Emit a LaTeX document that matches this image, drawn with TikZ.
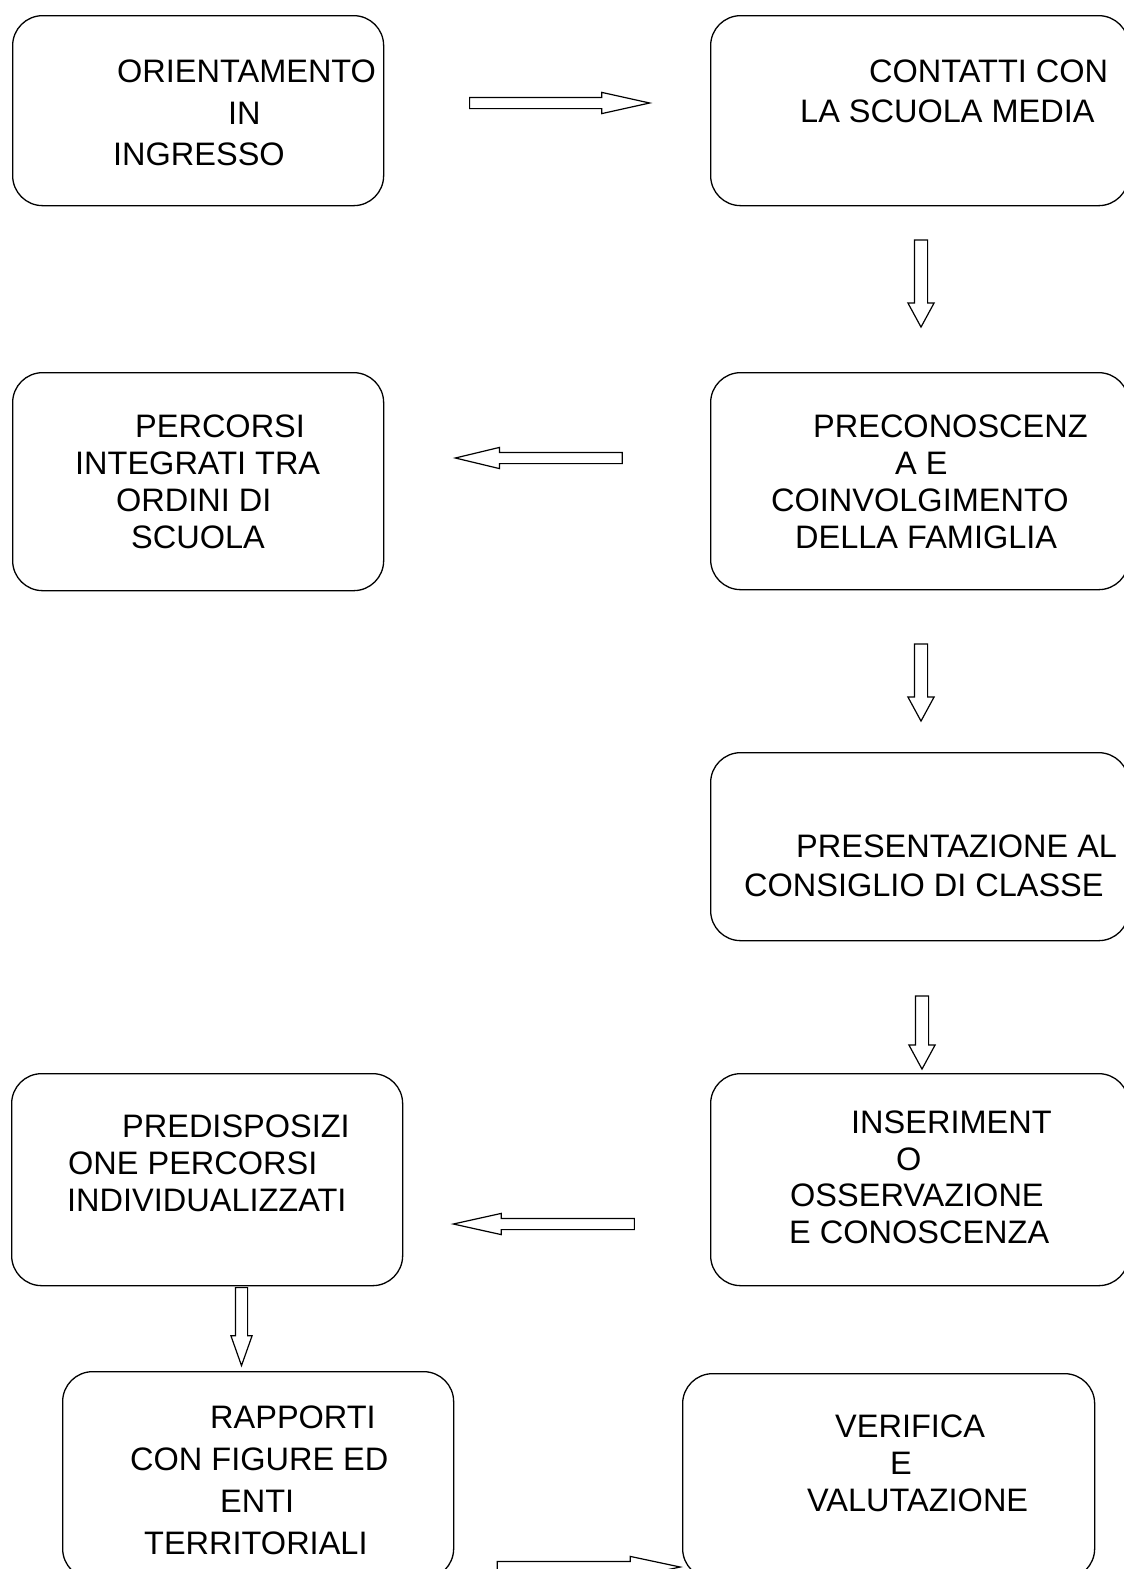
\documentclass[tikz,border=0pt]{standalone}
\usepackage{fontspec}
\setmainfont{Liberation Sans}
\usetikzlibrary{shapes, arrows, positioning, calc}
\tikzset{
    phase/.style={
        rectangle,
        rounded corners=30pt,
        line width=1.3pt,
        draw=black,
        anchor=north west,
        inner sep=0pt,
    },
    words/.style={
        anchor=north west,
        inner sep=0pt,
        align=left,
        font=\fontsize{32.5}{37}\selectfont,
    },
    hollow/.style={
        single arrow,
        draw=black,
        line width=1.2pt,
        inner xsep=0pt,
        single arrow head indent=0pt,
    },
    harrow/.style={
        hollow,
        inner ysep=5pt,
        single arrow head extend=5pt,
        single arrow tip angle=25,
    },
    varrow/.style={
        hollow,
        rotate=-90,
        inner ysep=6pt,
        single arrow head extend=6.5pt,
        single arrow tip angle=57,
    },
}

\begin{document}
\begin{tikzpicture}[x=1pt, y=-1pt]
      \clip (0,0) rectangle (1124,1569);

      % boxes
      \node[phase, minimum width=371pt, minimum height=190pt] (orient) at (12,15) {};
      \node[phase, minimum width=418pt, minimum height=190pt] (contatti) at (710,15) {};
      \node[phase, minimum width=371pt, minimum height=218pt] (percorsi) at (12,372) {};
      \node[phase, minimum width=418pt, minimum height=217pt] (preconosc) at (710,372) {};
      \node[phase, minimum width=418pt, minimum height=188pt] (presenta) at (710,752) {};
      \node[phase, minimum width=418pt, minimum height=212pt] (inserim) at (710,1073) {};
      \node[phase, minimum width=391pt, minimum height=212pt] (predisp) at (11,1073) {};
      \node[phase, minimum width=391pt, minimum height=207pt] (rapporti) at (62,1371) {};
      \node[phase, minimum width=412pt, minimum height=205pt] (verifica) at (682,1373) {};

      % texts
      \node[words, font=\fontsize{32.5}{41.5}\selectfont] (t-orient) at (113,60)
        {\hspace*{4pt}ORIENTAMENTO\\\hspace*{115pt}IN\\INGRESSO};
      \node[words, font=\fontsize{32.5}{40}\selectfont] (t-contatti) at (800,60)
        {\hspace*{69pt}CONTATTI CON\\LA SCUOLA MEDIA};
      \node[words] (t-percorsi) at (75,415)
        {\hspace*{60pt}PERCORSI\\INTEGRATI TRA\\\hspace*{41pt}ORDINI DI\\\hspace*{56pt}SCUOLA};
      \node[words] (t-preconosc) at (771,415)
        {\hspace*{42pt}PRECONOSCENZ\\\hspace*{124pt}A E\\COINVOLGIMENTO\\\hspace*{24pt}DELLA FAMIGLIA};
      \node[words, font=\fontsize{32.5}{39}\selectfont] (t-presenta) at (744,835)
        {\hspace*{52pt}PRESENTAZIONE AL\\CONSIGLIO DI CLASSE};
      \node[words, font=\fontsize{32.5}{36.5}\selectfont] (t-inserim) at (789,1111)
        {\hspace*{62pt}INSERIMENT\\\hspace*{107pt}O\\\hspace*{1pt}OSSERVAZIONE\\E CONOSCENZA};
      \node[words] (t-predisp) at (67,1115)
        {\hspace*{55pt}PREDISPOSIZI\\\hspace*{1pt}ONE PERCORSI\\INDIVIDUALIZZATI};
      \node[words, font=\fontsize{32.5}{42}\selectfont] (t-rapporti) at (130,1406)
        {\hspace*{80pt}RAPPORTI\\CON FIGURE ED\\\hspace*{90pt}ENTI\\\hspace*{14pt}TERRITORIALI};
      \node[words] (t-verifica) at (807,1415)
        {\hspace*{28pt}VERIFICA\\\hspace*{83pt}E\\VALUTAZIONE};

      % arrows
      \node[harrow, minimum height=180pt] (a1) at (547,103) {};
      \node[varrow, minimum height=87pt] (a2) at (921,277.5) {};
      \node[harrow, rotate=180, minimum height=167pt, single arrow tip angle=27] (a3) at (550.5,458) {};
      \node[varrow, minimum height=77pt] (a4) at (921,676.5) {};
      \node[varrow, minimum height=73pt] (a5) at (922,1026.5) {};
      \node[harrow, rotate=180, minimum height=181pt] (a6) at (556.5,1224) {};
      \node[varrow, minimum height=78pt, inner ysep=5.5pt, single arrow head extend=4.5pt,
            single arrow tip angle=39] (a7) at (241.5,1318) {};
      \node[harrow, minimum height=183pt, single arrow tip angle=24] (a8) at (575.5,1567) {};

    \end{tikzpicture}
\end{document}
